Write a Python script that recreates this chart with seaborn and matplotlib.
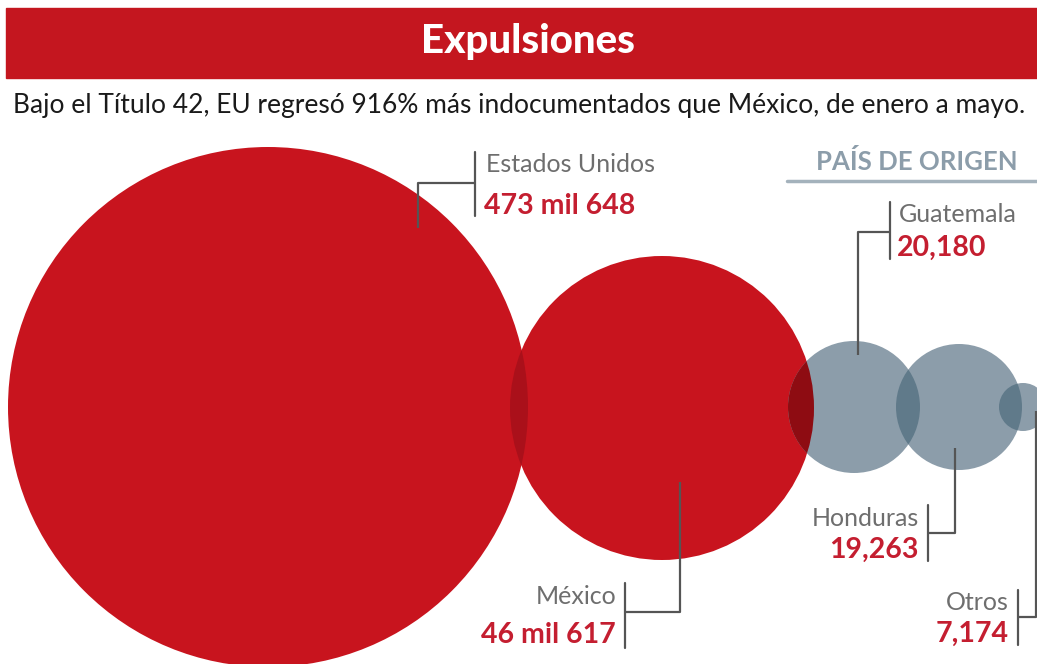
"""Expulsiones bajo el Título 42: círculos por país de origen."""

import matplotlib.pyplot as plt
import numpy as np
import pandas as pd
import seaborn as sns
from matplotlib.patches import Circle

sns.set_theme(style="white")
plt.rcParams["font.family"] = ["Lato", "DejaVu Sans"]

# data
paises = ["Estados Unidos", "México", "Guatemala", "Honduras", "Otros"]
valores = [473648, 46617, 20180, 19263, 7174]
etiquetas = ["473 mil 648", "46 mil 617", "20,180", "19,263", "7,174"]
grupo = ["expulsor", "expulsor", "origen", "origen", "origen"]

# layout (pixels, y down)
cx = [268, 662, 854, 959, 1023]
cy = [407, 408, 407, 407, 407]
radio = [260, 152, 66, 63, 24]

RED = "#c8141e"
RED_TXT = "#c41e30"
GRAY = "#8c9daa"
GRAY_TXT = "#6e6e6e"
LINE = "#555555"
colores = {"expulsor": RED, "origen": GRAY}
oscuros = {("expulsor", "expulsor"): "#aa101a",
           ("expulsor", "origen"): "#8e0c12",
           ("origen", "origen"): "#607a8a"}

df = pd.DataFrame({"pais": paises, "valor": valores, "etiqueta": etiquetas,
                   "grupo": grupo, "x": cx, "y": cy, "r": radio})

W, H = 1037, 664
fig = plt.figure(figsize=(W / 100, H / 100), dpi=100)
ax = fig.add_axes([0, 0, 1, 1])
ax.set_xlim(0, W)
ax.set_ylim(H, 0)
ax.set_aspect("equal")
ax.axis("off")

# banner
ax.add_patch(plt.Rectangle((6, 8), W - 6, 70, color="#c4161f", zorder=1))
ax.text(528, 41, "Expulsiones", color="white", fontsize=29, fontweight="black",
        ha="center", va="center", zorder=2)
ax.text(519, 106, "Bajo el Título 42, EU regresó 916% más indocumentados que México, de enero a mayo.",
        color="#1a1a1a", fontsize=19, ha="center", va="center")

# circles
for _, row in df.iterrows():
    ax.add_patch(Circle((row.x, row.y), row.r, color=colores[row.grupo], lw=0, zorder=3))

# darker lens where neighbouring circles overlap
for i in range(len(df) - 1):
    a, b = df.iloc[i], df.iloc[i + 1]
    clip = Circle((a.x, a.y), a.r, transform=ax.transData)
    lens = Circle((b.x, b.y), b.r, color=oscuros[(a.grupo, b.grupo)], lw=0, zorder=4)
    ax.add_patch(lens)
    lens.set_clip_path(clip)

# PAÍS DE ORIGEN header
ax.text(917, 162, "PAÍS DE ORIGEN", color=GRAY, fontsize=18.5, fontweight="bold",
        ha="center", va="center")
ax.plot([787, W], [181, 181], color="#a4b2bc", lw=2.5, zorder=2)

LBL = dict(color=GRAY_TXT, fontsize=18, fontweight="normal", va="center")
VAL = dict(color=RED_TXT, fontsize=20.5, fontweight="bold", va="center")


def leader(pts, bx, by0, by1):
    xs, ys = zip(*pts)
    ax.plot(xs, ys, color=LINE, lw=1.6, zorder=6, solid_capstyle="butt")
    ax.plot([bx, bx], [by0, by1], color=LINE, lw=1.6, zorder=6)


# Estados Unidos (text to the right)
leader([(418, 228), (418, 183), (475, 183)], 475, 152, 216)
ax.text(486, 165, paises[0], ha="left", **LBL)
ax.text(484, 206, etiquetas[0], ha="left", **VAL)

# Guatemala
leader([(858, 355), (858, 232), (890, 232)], 890, 202, 259)
ax.text(899, 215, paises[2], ha="left", **LBL)
ax.text(897, 248, etiquetas[2], ha="left", **VAL)

# México (text to the left)
leader([(680, 482), (680, 612), (625, 612)], 625, 583, 648)
ax.text(616, 597, paises[1], ha="right", **LBL)
ax.text(616, 635, etiquetas[1], ha="right", **VAL)

# Honduras
leader([(955, 448), (955, 533), (928, 533)], 928, 505, 561)
ax.text(919, 519, paises[3], ha="right", **LBL)
ax.text(919, 550, etiquetas[3], ha="right", **VAL)

# Otros
leader([(1036, 411), (1036, 617), (1018, 617)], 1018, 590, 645)
ax.text(1009, 602, paises[4], ha="right", **LBL)
ax.text(1009, 634, etiquetas[4], ha="right", **VAL)

fig.savefig("out.png", dpi=100, facecolor="white")
